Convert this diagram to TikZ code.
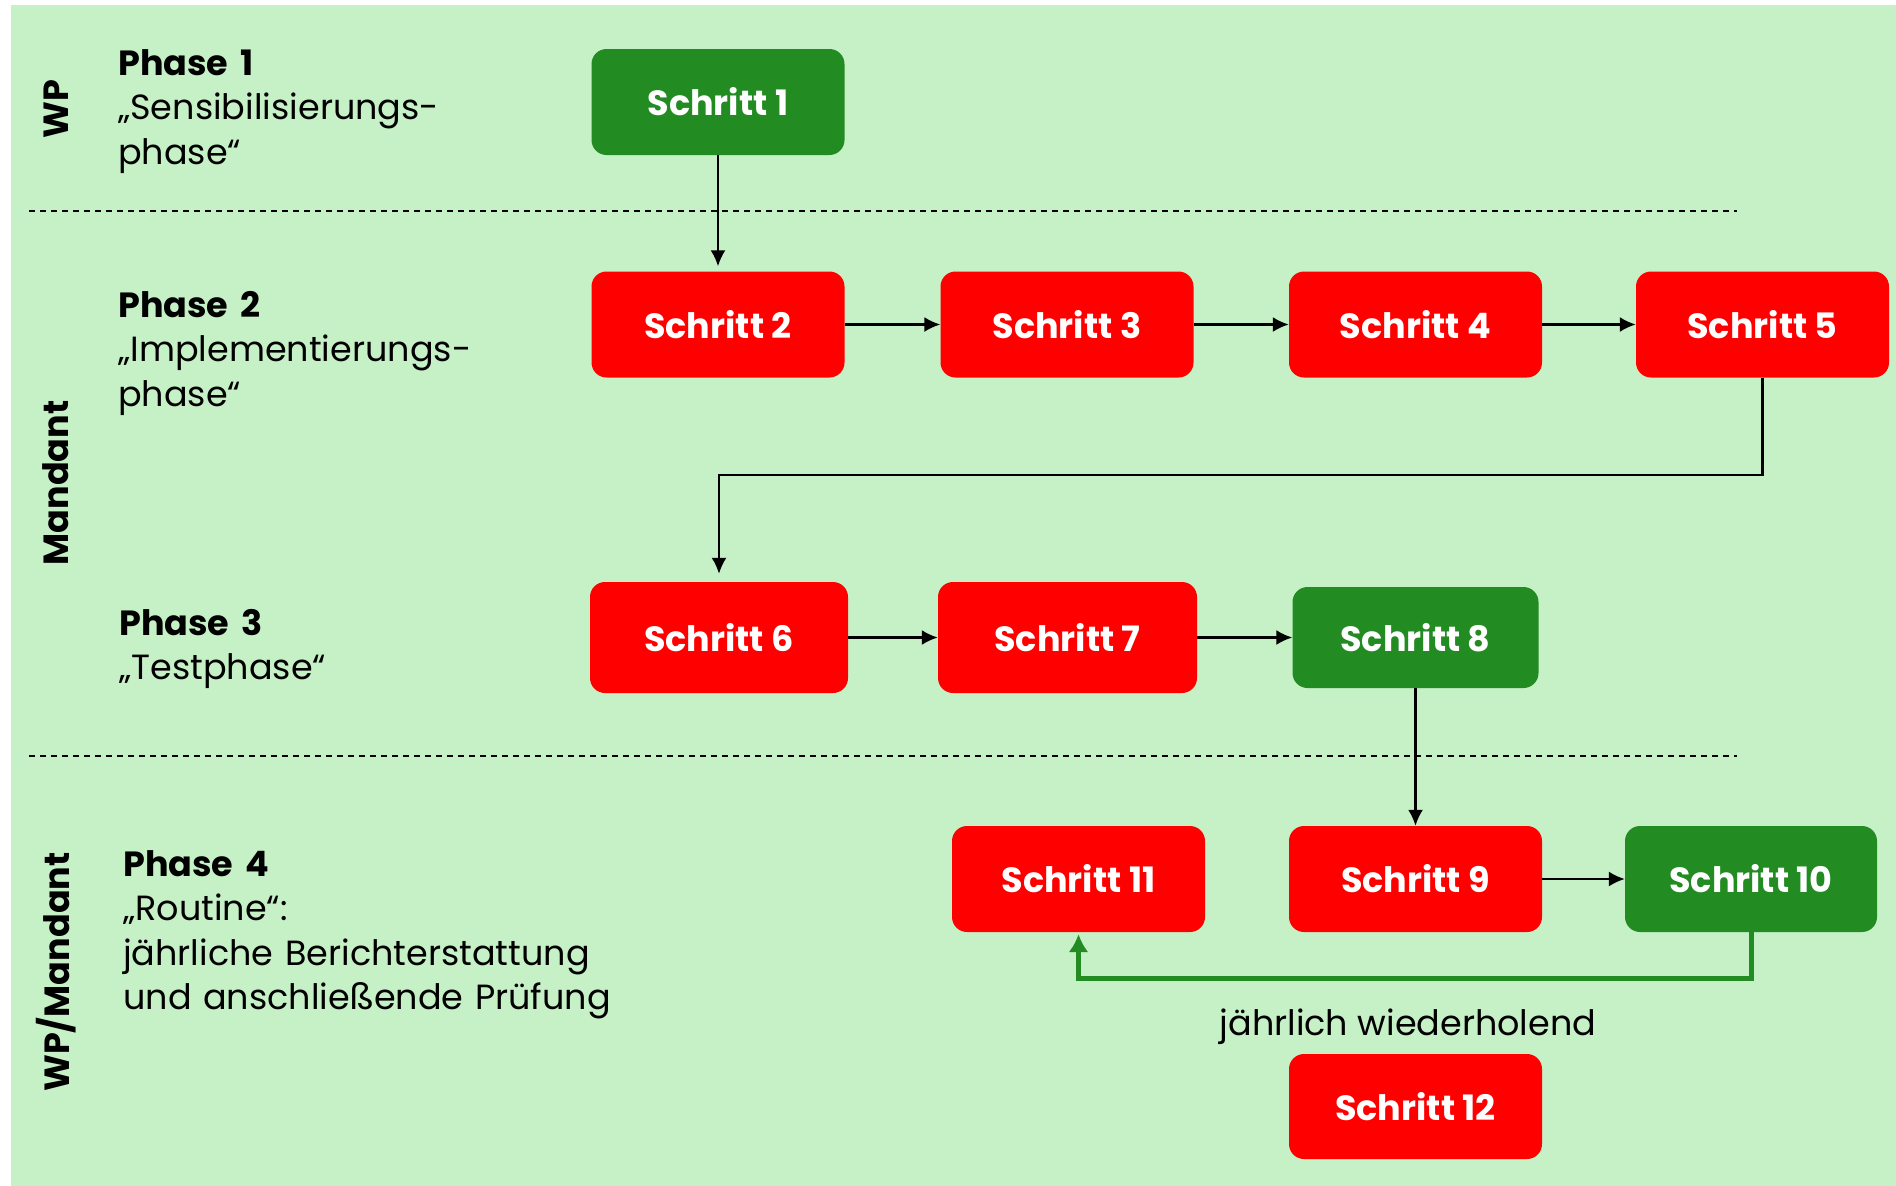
\documentclass[tikz,border=0pt]{standalone}
\usepackage{fontspec}
\setmainfont{Poppins}
\usetikzlibrary{arrows.meta}
\definecolor{bg}{HTML}{C6F0C6}
\definecolor{boxgreen}{HTML}{228B22}
\definecolor{boxred}{HTML}{FF0000}
\begin{document}
\begin{tikzpicture}[x=1pt,y=-1pt,
  stepbox/.style={rounded corners=15pt, minimum width=253pt, minimum height=106pt, inner sep=0pt, text=white, font=\fontsize{35}{42}\selectfont\bfseries},
  redbox/.style={stepbox, fill=boxred},
  greenbox/.style={stepbox, fill=boxgreen},
  arr/.style={draw=black, line width=2.2pt, -{Latex[length=16pt,width=15pt]}},
  garr/.style={draw=boxgreen, line width=5pt, -{Latex[length=18pt,width=20pt]}},
  sep/.style={draw=black, line width=1.5pt, dash pattern=on 6pt off 5pt},
  phasetext/.style={anchor=base west, align=left, inner sep=0pt, text width=700pt, font=\fontsize{35}{44.5}\selectfont},
  rolelabel/.style={rotate=90, inner sep=0pt, font=\fontsize{35}{42}\selectfont\bfseries}
]
\useasboundingbox (0,0) rectangle (1896,1186);
\fill[bg] (11,5) rectangle (1896,1186);

% separators
\coordinate (d1a) at (29,211); \coordinate (d1b) at (1737,211);
\coordinate (d2a) at (29,756); \coordinate (d2b) at (1737,756);
\draw[sep] (d1a) -- (d1b);
\draw[sep] (d2a) -- (d2b);

% role labels
\node[rolelabel] (rwp) at (56,109) {WP};
\node[rolelabel] (rman) at (56,483) {Mandant};
\node[rolelabel] (rwpman) at (56,972) {WP/Mandant};

% phase texts
\node[phasetext] (ph1) at (118,75) {\textbf{Phase 1}\\„Sensibilisierungs-\\phase“};
\node[phasetext] (ph2) at (118,317) {\textbf{Phase 2}\\„Implementierungs-\\phase“};
\node[phasetext] (ph3) at (119,635) {\textbf{Phase 3}\\„Testphase“};
\node[phasetext] (ph4) at (123,876) {\textbf{Phase 4}\\„Routine“:\\jährliche Berichterstattung\\und anschließende Prüfung};

% steps
\node[greenbox] (s1) at (718,102) {Schritt 1};
\node[redbox] (s2) at (718,324.5) {Schritt 2};
\node[redbox] (s3) at (1067,324.5) {Schritt 3};
\node[redbox] (s4) at (1415.5,324.5) {Schritt 4};
\node[redbox] (s5) at (1762.5,324.5) {Schritt 5};
\node[redbox, minimum width=258pt, minimum height=111pt] (s6) at (719,637.5) {Schritt 6};
\node[redbox, minimum width=259pt, minimum height=111pt] (s7) at (1067.5,637.5) {Schritt 7};
\node[greenbox, minimum width=246pt, minimum height=101pt] (s8) at (1415.5,637.5) {Schritt 8};
\node[redbox] (s11) at (1078.5,879) {Schritt 11};
\node[redbox] (s9) at (1415.5,879) {Schritt 9};
\node[greenbox, minimum width=252pt] (s10) at (1751,879) {Schritt 10};
\node[redbox, minimum height=105pt] (s12) at (1415.5,1106.5) {Schritt 12};

\node[anchor=base, inner sep=0pt, font=\fontsize{35}{42}\selectfont] (lbl) at (1408,1035) {jährlich wiederholend};

% connectors
\draw[arr, shorten >=5pt] (s1.south) -- (s2.north);
\draw[arr] (s2.east) -- (s3.west);
\draw[arr] (s3.east) -- (s4.west);
\draw[arr] (s4.east) -- (s5.west);
\coordinate (k1) at (719,475);
\draw[arr, shorten >=8pt] (s5.south) |- (k1) -- (s6.north);
\draw[arr] (s6.east) -- (s7.west);
\draw[arr] (s7.east) -- (s8.west);
\draw[arr] (s8.south) -- (s9.north);
\draw[arr] (s9.east) -- (s10.west);
\coordinate (k2) at (1078.5,978);
\draw[garr, shorten >=2pt] (s10.south) |- (k2) -- (s11.south);
\end{tikzpicture}
\end{document}
